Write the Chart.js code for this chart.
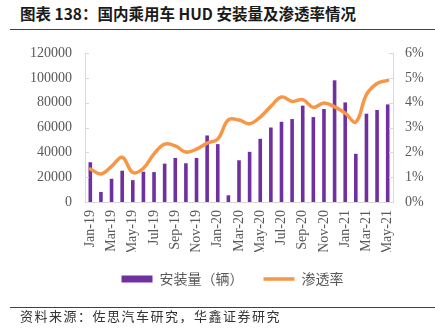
<!DOCTYPE html>
<html lang="zh">
<head>
    <meta charset="UTF-8">
    <title>国内乘用车 HUD 安装量及渗透率情况</title>
    <script src="https://cdn.jsdelivr.net/npm/chart.js"></script>
    <style>
        html, body {
            margin: 0;
            padding: 0;
            background: #ffffff;
        }
        .page {
            position: relative;
            width: 435px;
            height: 335px;
            overflow: hidden;
        }
        .title {
            position: absolute;
            left: 20px;
            top: 5px;
            font-family: "Noto Sans CJK SC", sans-serif;
            font-weight: 700;
            font-size: 15.5px;
            line-height: 16px;
            color: #1a1a1a;
            white-space: nowrap;
        }
        .rule {
            position: absolute;
            left: 10px;
            right: 0;
            height: 1px;
            background: #404040;
        }
        .source {
            position: absolute;
            left: 20px;
            top: 309px;
            font-family: "Noto Sans CJK SC", sans-serif;
            font-size: 13px;
            line-height: 14px;
            letter-spacing: 1.5px;
            color: #333333;
            white-space: nowrap;
        }
        .chart-container {
            position: absolute;
            left: 0;
            top: 0;
            width: 435px;
            height: 335px;
        }
    </style>
</head>
<body>
<div class="page">
    <div class="title">图表 138：国内乘用车 HUD 安装量及渗透率情况</div>
    <div class="rule" style="top: 29px;"></div>
    <div class="chart-container">
        <canvas id="myChart"></canvas>
    </div>
    <div class="rule" style="top: 307px;"></div>
    <div class="source">资料来源：佐思汽车研究，华鑫证券研究</div>
</div>

<script>
    const months = [
        'Jan-19', 'Feb-19', 'Mar-19', 'Apr-19', 'May-19', 'Jun-19', 'Jul-19', 'Aug-19', 'Sep-19', 'Oct-19',
        'Nov-19', 'Dec-19', 'Jan-20', 'Feb-20', 'Mar-20', 'Apr-20', 'May-20', 'Jun-20', 'Jul-20', 'Aug-20',
        'Sep-20', 'Oct-20', 'Nov-20', 'Dec-20', 'Jan-21', 'Feb-21', 'Mar-21', 'Apr-21', 'May-21'
    ];

    // 安装量（辆）
    const installs = [
        32000, 8100, 18700, 25200, 17600, 24400, 24100, 30900, 35500, 31200,
        35500, 53600, 46600, 5400, 33600, 40400, 50900, 60000, 64600, 66800,
        77600, 68400, 74900, 98000, 80200, 38800, 71100, 74100, 78600
    ];

    // 渗透率 (%)
    const penetration = [
        1.33, 1.13, 1.43, 1.80, 1.19, 1.36, 1.94, 2.33, 2.26, 2.01,
        2.13, 2.37, 2.53, 3.31, 3.30, 3.15, 3.42, 3.85, 4.23, 4.05,
        4.12, 3.81, 3.99, 3.83, 3.58, 3.22, 4.32, 4.77, 4.90
    ];

    const leftTicks = [0, 20000, 40000, 60000, 80000, 100000, 120000];
    const rightTicks = [0, 1, 2, 3, 4, 5, 6];

    const purple = '#7030A0';
    const orange = '#F79646';
    const axisGray = '#D9D9D9';
    const labelGray = '#595959';
    const serif = '"Liberation Serif", "Times New Roman", serif';

    // short tick marks drawn on the inner side of both value axes
    const innerTicks = {
        id: 'innerTicks',
        afterDraw(chart) {
            const ctx = chart.ctx;
            const area = chart.chartArea;
            ctx.save();
            ctx.strokeStyle = axisGray;
            ctx.lineWidth = 1;
            [['y', area.left, 4], ['y1', area.right, -4]].forEach(([id, x, len]) => {
                const scale = chart.scales[id];
                scale.ticks.forEach(t => {
                    const y = Math.round(scale.getPixelForValue(t.value)) + 0.5;
                    ctx.beginPath();
                    ctx.moveTo(x, y);
                    ctx.lineTo(x + len, y);
                    ctx.stroke();
                });
            });
            ctx.restore();
        }
    };

    const ctx = document.getElementById('myChart').getContext('2d');
    new Chart(ctx, {
        data: {
            labels: months,
            datasets: [
                {
                    type: 'bar',
                    label: '安装量（辆）',
                    data: installs,
                    yAxisID: 'y',
                    backgroundColor: purple,
                    borderWidth: 0,
                    barPercentage: 0.34,
                    categoryPercentage: 1,
                    pointStyle: 'rect',
                    order: 2
                },
                {
                    type: 'line',
                    label: '渗透率',
                    data: penetration,
                    yAxisID: 'y1',
                    borderColor: orange,
                    backgroundColor: orange,
                    borderWidth: 3.5,
                    borderCapStyle: 'round',
                    borderJoinStyle: 'round',
                    tension: 0.4,
                    pointRadius: 0,
                    pointStyle: 'line',
                    order: 1
                }
            ]
        },
        options: {
            responsive: true,
            maintainAspectRatio: false,
            animation: false,
            layout: {
                padding: { top: 53, left: 30, right: 0, bottom: 39 }
            },
            scales: {
                x: {
                    grid: { display: false, drawTicks: false },
                    border: { display: true, color: axisGray, width: 1 },
                    ticks: {
                        autoSkip: false,
                        maxRotation: 90,
                        minRotation: 90,
                        padding: 8,
                        color: labelGray,
                        font: { family: serif, size: 14 },
                        callback: function(value, index) {
                            return index % 2 === 0 ? months[index] : '';
                        }
                    },
                    afterFit: function(scale) {
                        scale.height = 50;
                    }
                },
                y: {
                    position: 'left',
                    min: leftTicks[0],
                    max: leftTicks[leftTicks.length - 1],
                    grid: { display: false, drawTicks: false },
                    border: { display: true, color: axisGray, width: 1 },
                    ticks: {
                        stepSize: leftTicks[1] - leftTicks[0],
                        padding: 13,
                        color: labelGray,
                        font: { family: serif, size: 14 },
                        callback: function(value) {
                            return String(value);
                        }
                    },
                    afterFit: function(scale) {
                        scale.width = 55;
                    }
                },
                y1: {
                    position: 'right',
                    min: rightTicks[0],
                    max: rightTicks[rightTicks.length - 1],
                    grid: { display: false, drawTicks: false },
                    border: { display: true, color: axisGray, width: 1 },
                    ticks: {
                        stepSize: 1,
                        padding: 12,
                        color: labelGray,
                        font: { family: serif, size: 14 },
                        callback: function(value) {
                            return value + '%';
                        }
                    },
                    afterFit: function(scale) {
                        scale.width = 42;
                    }
                }
            },
            plugins: {
                legend: {
                    position: 'bottom',
                    labels: {
                        usePointStyle: true,
                        pointStyleWidth: 31,
                        boxHeight: 7,
                        padding: 20,
                        color: labelGray,
                        font: { family: '"Noto Sans CJK SC", sans-serif', size: 14 },
                        sort: function(a, b) {
                            return a.datasetIndex - b.datasetIndex;
                        }
                    }
                },
                tooltip: { enabled: false }
            }
        },
        plugins: [innerTicks]
    });
</script>
</body>
</html>
